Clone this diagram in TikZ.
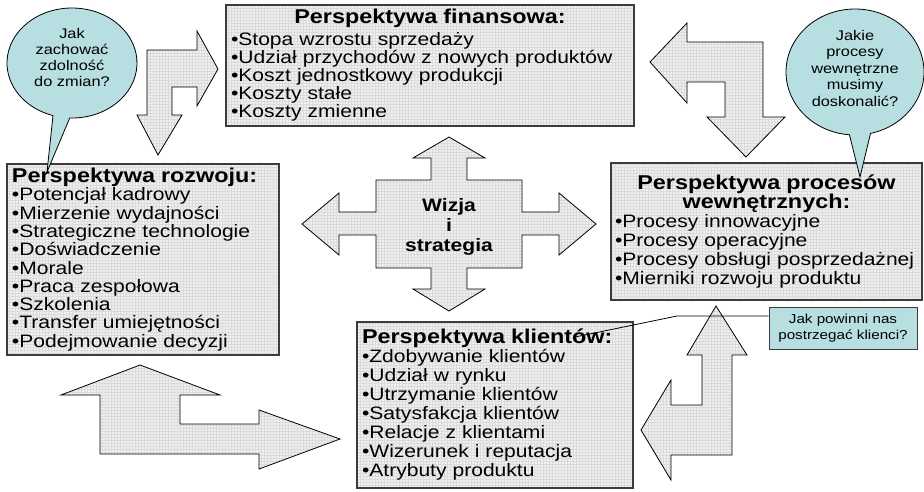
\documentclass[tikz,border=0pt]{standalone}
\usepackage{fontspec}
\setmainfont{Liberation Sans}[FakeStretch=1.17]
\usetikzlibrary{patterns}

\definecolor{dymekfill}{RGB}{183,222,224}
\definecolor{ramka}{RGB}{60,60,60}

\newcommand{\tytul}[1]{{\bfseries\fontsize{20}{18}\selectfont #1}}
\newcommand{\tytulc}[1]{\makebox[\hsize]{\tytul{#1}}}

\begin{document}
\begin{tikzpicture}[x=1pt,y=1pt,
  persp/.style={draw=ramka, line width=1.2pt, preaction={fill=black!6}, pattern=grid, pattern color=black!14,
    anchor=north west, outer sep=0pt, inner xsep=5pt, inner ysep=0pt, align=left},
  blok/.style={draw=black, line width=0.8pt, preaction={fill=black!6}, pattern=grid, pattern color=black!14},
  dymek/.style={draw=black, line width=0.8pt, fill=dymekfill}]
  \useasboundingbox (0,0) rectangle (924,-491);

  \node[persp, minimum width=408pt, minimum height=121pt, text width=398pt,
    font=\fontsize{18}{18.2}\selectfont] (fin) at (226,-5)
    {\tytulc{Perspektywa finansowa:}\\[3pt]
     •Stopa wzrostu sprzedaży\\
     •Udział przychodów z nowych produktów\\
     •Koszt jednostkowy produkcji\\
     •Koszty stałe\\
     •Koszty zmienne};
  \node[persp, minimum width=272pt, minimum height=191pt, text width=262pt,
    font=\fontsize{18}{18.3}\selectfont] (rozwoj) at (7,-164)
    {\tytul{Perspektywa rozwoju:}\\
     •Potencjał kadrowy\\
     •Mierzenie wydajności\\
     •Strategiczne technologie\\
     •Doświadczenie\\
     •Morale\\
     •Praca zespołowa\\
     •Szkolenia\\
     •Transfer umiejętności\\
     •Podejmowanie decyzji};
  \node[persp, minimum width=311pt, minimum height=137pt, text width=303pt, inner xsep=4pt,
    font=\fontsize{18}{19}\selectfont] (proc) at (611,-163)
    {\tytulc{Perspektywa procesów}\\
     \tytulc{wewnętrznych:}\\
     •Procesy innowacyjne\\
     •Procesy operacyjne\\
     •Procesy obsługi posprzedażnej\\
     •Mierniki rozwoju produktu};
  \node[persp, minimum width=276pt, minimum height=166pt, text width=266pt,
    font=\fontsize{18}{19}\selectfont] (klient) at (357,-322)
    {\tytul{Perspektywa klientów:}\\
     •Zdobywanie klientów\\
     •Udział w rynku\\
     •Utrzymanie klientów\\
     •Satysfakcja klientów\\
     •Relacje z klientami\\
     •Wizerunek i reputacja\\
     •Atrybuty produktu};

  \draw[blok] (449,-137) -- (485,-158) -- (467,-158) -- (467,-180) -- (522,-180) -- (522,-212)
    -- (559,-212) -- (559,-193) -- (596,-224) -- (559,-255) -- (559,-235) -- (522,-235)
    -- (522,-268) -- (467,-268) -- (467,-289) -- (485,-289) -- (449,-311) -- (413,-289)
    -- (431,-289) -- (431,-268) -- (376,-268) -- (376,-235) -- (339,-235) -- (339,-255)
    -- (302,-224) -- (339,-193) -- (339,-212) -- (376,-212) -- (376,-180) -- (431,-180)
    -- (431,-158) -- (413,-158) -- cycle;
  \node[font=\bfseries\fontsize{18}{20}\selectfont, align=center] (wizja) at (449,-227)
    {Wizja\\i\\strategia};

  \draw[blok] (147,-50) -- (197,-50) -- (197,-31) -- (218,-69) -- (197,-106) -- (197,-87)
    -- (172,-87) -- (172,-115) -- (182,-115) -- (158,-155) -- (137,-115) -- (147,-115) -- cycle;
  \draw[blok] (650,-62) -- (687,-23) -- (687,-42) -- (763,-42) -- (763,-117) -- (785,-117)
    -- (746,-157) -- (707,-117) -- (725,-117) -- (725,-82) -- (687,-82) -- (687,-103) -- cycle;
  \draw[blok] (716,-306) -- (747,-355) -- (732,-355) -- (732,-455) -- (671,-455) -- (671,-480)
    -- (641,-430) -- (671,-380) -- (671,-405) -- (702,-405) -- (702,-355) -- (687,-355) -- cycle;
  \draw[blok] (140,-365) -- (220,-395) -- (180,-395) -- (180,-424) -- (259,-424) -- (259,-410)
    -- (340,-439) -- (259,-469) -- (259,-454) -- (100,-454) -- (100,-395) -- (61,-395) -- cycle;

  \draw[dymek] (72,-63) ++(268:65 and 55) arc[start angle=268, end angle=613, x radius=65, y radius=55]
    -- (47,-172) -- cycle;
  \node[font=\fontsize{14}{16}\selectfont, align=center] (dymekL) at (72,-57)
    {Jak\\zachować\\zdolność\\do zmian?};
  \draw[dymek] (855,-72) ++(283:69 and 63) arc[start angle=283, end angle=625.4, x radius=69, y radius=63]
    -- (860,-177) -- cycle;
  \node[font=\fontsize{14}{16.5}\selectfont, align=center] (dymekR) at (855,-68)
    {Jakie\\procesy\\wewnętrzne\\musimy\\doskonalić?};

  \node[draw=ramka, line width=1pt, fill=dymekfill, minimum width=148pt, minimum height=42pt,
    align=center, font=\fontsize{13}{16}\selectfont] (pyt) at (843,-328)
    {Jak powinni nas\\postrzegać klienci?};
  \coordinate (zagiecie) at (677,-316);
  \coordinate (grot) at (575,-337);
  \draw[line width=0.8pt] (grot) -- (zagiecie) -- (zagiecie -| pyt.west);
\end{tikzpicture}
\end{document}
